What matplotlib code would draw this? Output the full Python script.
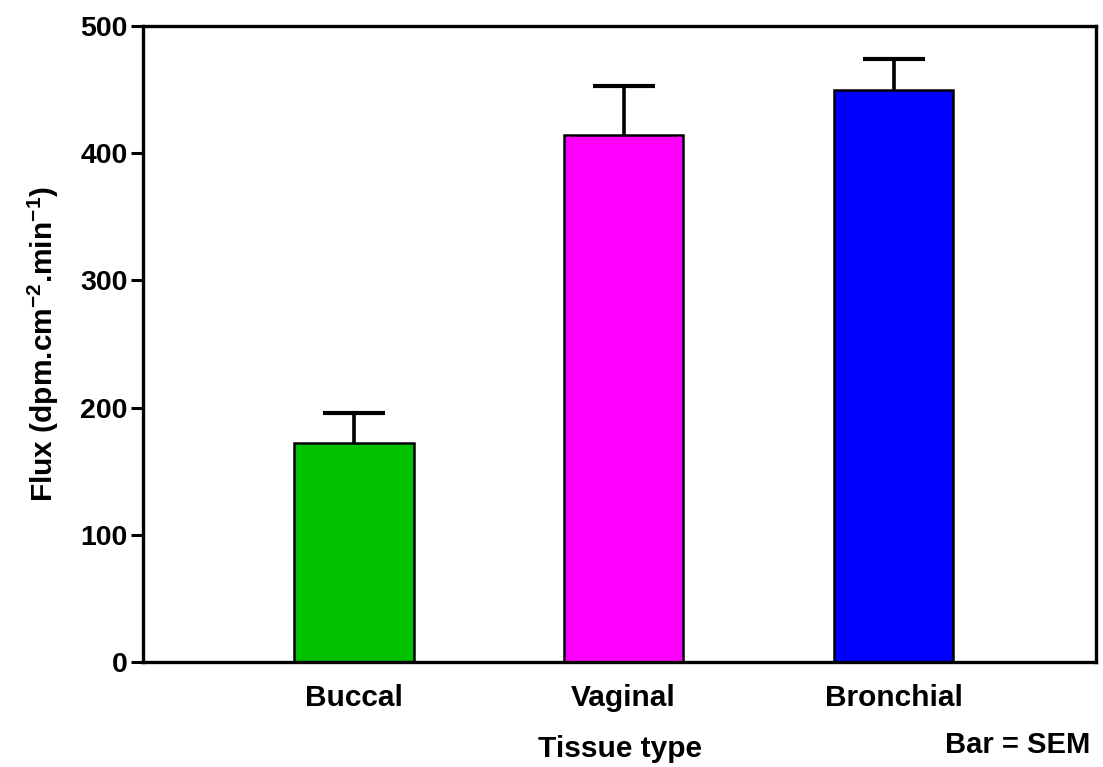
import matplotlib
matplotlib.use('Agg')
import matplotlib.pyplot as plt

tissues = ['Buccal', 'Vaginal', 'Bronchial']
flux = [172, 414, 450]
sem = [24, 39, 24]
colors = ['#00c000', '#ff00ff', '#0000ff']

plt.rcParams['font.family'] = 'Liberation Sans'
plt.rcParams['font.weight'] = 'bold'
plt.rcParams['mathtext.fontset'] = 'custom'
plt.rcParams['mathtext.rm'] = 'Liberation Sans:bold'
plt.rcParams['mathtext.bf'] = 'Liberation Sans:bold'
plt.rcParams['mathtext.it'] = 'Liberation Sans:bold'
plt.rcParams['axes.unicode_minus'] = False

fig = plt.figure(figsize=(11.03, 7.67), dpi=100)
ax = fig.add_axes([143/1103, 105/767, 953/1103, 636/767])

x = range(len(tissues))
ax.bar(x, flux, width=0.444, color=colors, edgecolor='black', linewidth=1.8, zorder=2)
eb = ax.errorbar(x, flux, yerr=[[0]*len(sem), sem], fmt='none', ecolor='black',
                 elinewidth=2.6, capsize=22, capthick=3, zorder=1)
# only the upper cap is shown (SEM bar drawn above the column)
eb[1][0].set_visible(False)

ax.set_xlim(-0.78, 2.75)
ax.set_ylim(0, 500)
ax.set_yticks([0, 100, 200, 300, 400, 500])
ax.set_xticks(list(x))
ax.set_xticklabels(tissues)
ax.tick_params(axis='y', length=9, width=2.2, pad=2, labelsize=20.5)
ax.tick_params(axis='x', length=0, pad=16, labelsize=21.5)
for s in ax.spines.values():
    s.set_linewidth(2.4)

ax.set_ylabel('Flux (dpm.cm$^{-2}$.min$^{-1}$)', fontsize=21.5, fontweight='bold', labelpad=14)
fig.text(620/1103, 1 - 749/767, 'Tissue type', ha='center', va='center', fontsize=21.5, fontweight='bold')
fig.text(1090/1103, 1 - 745/767, 'Bar = SEM', ha='right', va='center', fontsize=21, fontweight='bold')

plt.savefig('out.png', dpi=100)
plt.close()
